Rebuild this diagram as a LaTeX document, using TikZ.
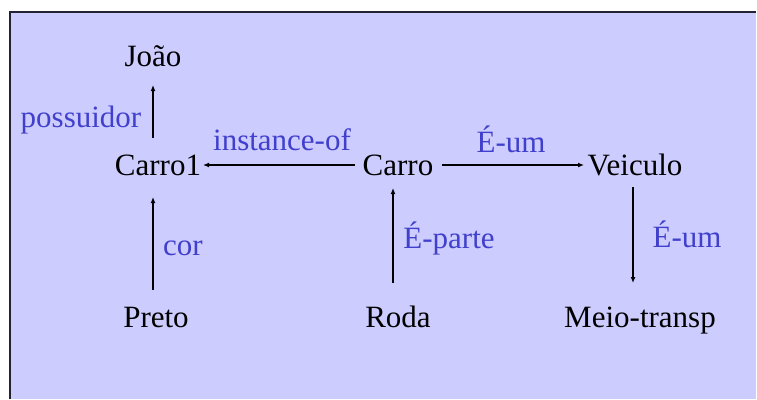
\documentclass[tikz,border=0pt]{standalone}
\usepackage{fontspec}
\setmainfont{Liberation Serif}
\usetikzlibrary{arrows.meta,calc}
\definecolor{panel}{RGB}{204,204,255}
\definecolor{rim}{RGB}{34,34,51}
\definecolor{rel}{RGB}{64,64,204}
\begin{document}
\begin{tikzpicture}[x=1pt,y=-1pt,
  concept/.style={anchor=base,inner sep=0pt,font=\fontsize{31}{36}\selectfont,text=black},
  relation/.style={anchor=base,inner sep=0pt,font=\fontsize{31}{36}\selectfont,text=rel},
  arr/.style={line width=1.2pt,-{Latex[length=6pt,width=5pt]}}]
  \fill[white] (0,0) rectangle (757,399);
  \useasboundingbox (0,0) rectangle (757,399);
  % panel: filled almost to the right edge and down to the bottom, ruled on the left and top
  \fill[panel] (10,12) rectangle (756,399);
  \draw[rim,line width=1.2pt] (10,399) -- (10,12) -- (756,12);

  % concepts
  \node[concept] (joao)    at (153,66)  {João};
  \node[concept] (carro1)  at (158,175) {Carro1};
  \node[concept] (carro)   at (398,175) {Carro};
  \node[concept] (veiculo) at (635,175) {Veiculo};
  \node[concept] (preto)   at (156,327) {Preto};
  \node[concept] (roda)    at (398,327) {Roda};
  \node[concept] (meio)    at (640,327) {Meio-transp};

  % relation names
  \node[relation] (lpos)  at (81,127)  {possuidor};
  \node[relation] (linst) at (282,150) {instance-of};
  \node[relation] (lisa)  at (511,152) {É-um};
  \node[relation] (lcor)  at (183,255) {cor};
  \node[relation] (lpart) at (449,248) {É-parte};
  \node[relation] (lisb)  at (687,247) {É-um};

  % relations
  \draw[arr] ($(carro1.base)+(-5,-37)$) -- ($(joao.base)+(0,19)$);
  \draw[arr] ($(preto.base)+(-3,-37)$) -- ($(carro1.base)+(-5,22)$);
  \draw[arr] ($(carro.base)+(-43,-10)$) -- ($(carro1.base)+(45,-10)$);
  \draw[arr] ($(carro.base)+(44,-10)$) -- ($(veiculo.base)+(-51,-10)$);
  \draw[arr] ($(roda.base)+(-5,-44)$) -- ($(carro.base)+(-5,13)$);
  \draw[arr] ($(veiculo.base)+(-2,12)$) -- ($(meio.base)+(-7,-44)$);
\end{tikzpicture}
\end{document}
